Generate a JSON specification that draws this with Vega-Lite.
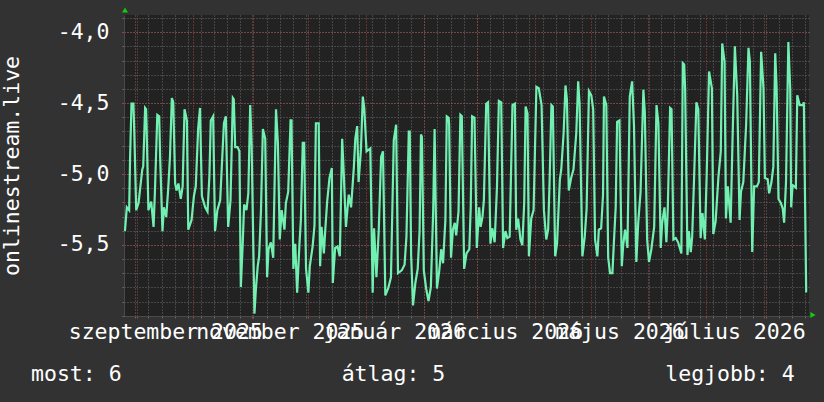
{
  "$schema": "https://vega.github.io/schema/vega-lite/v6.json",
  "width": 685,
  "height": 301,
  "autosize": "none",
  "padding": {"left": 124, "top": 15, "right": 15, "bottom": 86},
  "background": "#323232",
  "config": {
    "view": {"fill": "#222222", "stroke": null},
    "axis": {"labelFont": "DejaVu Sans Mono", "titleFont": "DejaVu Sans Mono", "labelColor": "#ffffff", "titleColor": "#ffffff", "gridOpacity": 1, "tickOpacity": 1}
  },
  "title": {
    "text": "most: 6\u00a0\u00a0\u00a0\u00a0\u00a0\u00a0\u00a0\u00a0\u00a0\u00a0\u00a0\u00a0\u00a0\u00a0\u00a0\u00a0\u00a0átlag: 5\u00a0\u00a0\u00a0\u00a0\u00a0\u00a0\u00a0\u00a0\u00a0\u00a0\u00a0\u00a0\u00a0\u00a0\u00a0\u00a0\u00a0legjobb: 4",
    "orient": "bottom",
    "anchor": "start",
    "frame": "group",
    "font": "DejaVu Sans Mono",
    "fontSize": 21.5,
    "fontWeight": "normal",
    "color": "#ffffff",
    "offset": 21,
    "dx": -93,
    "limit": 900
  },
  "resolve": {"axis": {"x": "independent", "y": "independent"}},
  "layer": [
    {
      "data": {"values": [
        {"t":"2025-08-25T12:00","v":-5.403},{"t":"2025-08-26T12:00","v":-5.235},{"t":"2025-08-27T18:00","v":-5.255},{"t":"2025-08-28T06:00","v":-4.879},{"t":"2025-08-29T00:00","v":-4.504},{"t":"2025-08-30T00:00","v":-4.504},{"t":"2025-08-30T12:00","v":-4.711},{"t":"2025-08-31T12:00","v":-5.255},
        {"t":"2025-09-01T18:00","v":-5.205},{"t":"2025-09-02T12:00","v":-5.116},{"t":"2025-09-03T18:00","v":-4.968},{"t":"2025-09-04T06:00","v":-4.948},{"t":"2025-09-05T06:00","v":-4.534},{"t":"2025-09-05T18:00","v":-4.543},{"t":"2025-09-06T00:00","v":-4.642},{"t":"2025-09-07T00:00","v":-5.255},
        {"t":"2025-09-08T12:00","v":-5.195},{"t":"2025-09-09T18:00","v":-5.373},{"t":"2025-09-10T12:00","v":-5.116},{"t":"2025-09-11T18:00","v":-4.583},{"t":"2025-09-12T18:00","v":-4.593},{"t":"2025-09-13T06:00","v":-4.879},{"t":"2025-09-14T12:00","v":-5.403},{"t":"2025-09-15T06:00","v":-5.235},
        {"t":"2025-09-16T12:00","v":-5.304},{"t":"2025-09-17T12:00","v":-5.116},{"t":"2025-09-18T12:00","v":-4.879},{"t":"2025-09-19T12:00","v":-4.464},{"t":"2025-09-20T06:00","v":-4.494},{"t":"2025-09-21T06:00","v":-5.067},{"t":"2025-09-22T00:00","v":-5.116},{"t":"2025-09-23T00:00","v":-5.067},
        {"t":"2025-09-24T06:00","v":-5.176},{"t":"2025-09-25T06:00","v":-5.087},{"t":"2025-09-26T06:00","v":-4.543},{"t":"2025-09-26T18:00","v":-4.573},{"t":"2025-09-27T12:00","v":-4.622},{"t":"2025-09-28T06:00","v":-5.393},{"t":"2025-09-30T00:00","v":-5.324},{"t":"2025-10-01T06:00","v":-5.156},
        {"t":"2025-10-02T06:00","v":-5.087},{"t":"2025-10-03T12:00","v":-4.682},{"t":"2025-10-04T12:00","v":-4.534},{"t":"2025-10-05T12:00","v":-5.156},{"t":"2025-10-07T06:00","v":-5.235},{"t":"2025-10-08T12:00","v":-5.265},{"t":"2025-10-09T12:00","v":-5.018},{"t":"2025-10-10T06:00","v":-4.622},
        {"t":"2025-10-11T12:00","v":-4.593},{"t":"2025-10-12T12:00","v":-5.403},{"t":"2025-10-13T18:00","v":-5.255},{"t":"2025-10-15T06:00","v":-5.186},{"t":"2025-10-17T06:00","v":-4.642},{"t":"2025-10-18T06:00","v":-4.593},{"t":"2025-10-19T12:00","v":-5.373},{"t":"2025-10-20T18:00","v":-5.186},
        {"t":"2025-10-22T00:00","v":-4.464},{"t":"2025-10-22T12:00","v":-4.474},{"t":"2025-10-23T06:00","v":-4.810},{"t":"2025-10-24T12:00","v":-4.810},{"t":"2025-10-25T12:00","v":-4.840},{"t":"2025-10-26T06:00","v":-5.798},{"t":"2025-10-27T06:00","v":-5.492},{"t":"2025-10-28T00:00","v":-5.215},
        {"t":"2025-10-29T06:00","v":-5.255},{"t":"2025-10-30T06:00","v":-5.136},{"t":"2025-10-31T06:00","v":-4.514},{"t":"2025-11-01T00:00","v":-4.790},{"t":"2025-11-02T12:00","v":-5.985},{"t":"2025-11-03T06:00","v":-5.818},{"t":"2025-11-04T06:00","v":-5.650},{"t":"2025-11-05T00:00","v":-5.581},
        {"t":"2025-11-06T00:00","v":-5.255},{"t":"2025-11-07T00:00","v":-4.682},{"t":"2025-11-08T06:00","v":-4.751},{"t":"2025-11-09T06:00","v":-5.729},{"t":"2025-11-10T00:00","v":-5.531},{"t":"2025-11-11T06:00","v":-5.482},{"t":"2025-11-12T12:00","v":-5.591},{"t":"2025-11-14T00:00","v":-4.543},
        {"t":"2025-11-15T00:00","v":-4.781},{"t":"2025-11-16T00:00","v":-5.462},{"t":"2025-11-17T00:00","v":-5.255},{"t":"2025-11-18T12:00","v":-5.393},{"t":"2025-11-19T06:00","v":-5.205},{"t":"2025-11-20T12:00","v":-5.126},{"t":"2025-11-21T18:00","v":-4.622},{"t":"2025-11-22T06:00","v":-4.622},
        {"t":"2025-11-23T06:00","v":-5.670},{"t":"2025-11-24T06:00","v":-5.492},{"t":"2025-11-25T06:00","v":-5.838},{"t":"2025-11-26T12:00","v":-5.492},{"t":"2025-11-27T06:00","v":-5.324},{"t":"2025-11-28T06:00","v":-4.781},{"t":"2025-11-29T00:00","v":-4.781},{"t":"2025-11-30T00:00","v":-5.670},
        {"t":"2025-12-01T06:00","v":-5.838},{"t":"2025-12-02T00:00","v":-5.650},{"t":"2025-12-03T12:00","v":-5.512},{"t":"2025-12-04T12:00","v":-5.363},{"t":"2025-12-05T06:00","v":-4.642},{"t":"2025-12-06T18:00","v":-4.642},{"t":"2025-12-07T12:00","v":-5.650},{"t":"2025-12-08T06:00","v":-5.373},
        {"t":"2025-12-09T12:00","v":-5.561},{"t":"2025-12-10T06:00","v":-5.393},{"t":"2025-12-11T06:00","v":-5.195},{"t":"2025-12-12T12:00","v":-5.028},{"t":"2025-12-13T18:00","v":-4.958},{"t":"2025-12-14T06:00","v":-5.769},{"t":"2025-12-15T12:00","v":-5.522},{"t":"2025-12-16T18:00","v":-5.512},
        {"t":"2025-12-18T00:00","v":-5.581},{"t":"2025-12-19T06:00","v":-4.751},{"t":"2025-12-20T00:00","v":-4.968},{"t":"2025-12-21T06:00","v":-5.373},{"t":"2025-12-22T18:00","v":-5.146},{"t":"2025-12-24T00:00","v":-5.235},{"t":"2025-12-25T12:00","v":-4.948},{"t":"2025-12-26T06:00","v":-4.751},
        {"t":"2025-12-27T06:00","v":-4.662},{"t":"2025-12-28T00:00","v":-5.057},{"t":"2025-12-29T06:00","v":-4.830},{"t":"2025-12-30T06:00","v":-4.454},{"t":"2025-12-31T00:00","v":-4.534},{"t":"2026-01-01T06:00","v":-4.840},{"t":"2026-01-03T06:00","v":-4.820},{"t":"2026-01-04T12:00","v":-5.838},
        {"t":"2026-01-05T06:00","v":-5.383},{"t":"2026-01-06T12:00","v":-5.729},{"t":"2026-01-07T18:00","v":-5.393},{"t":"2026-01-09T00:00","v":-4.879},{"t":"2026-01-10T00:00","v":-4.840},{"t":"2026-01-11T06:00","v":-5.857},{"t":"2026-01-12T18:00","v":-5.808},{"t":"2026-01-14T06:00","v":-5.729},
        {"t":"2026-01-15T18:00","v":-4.761},{"t":"2026-01-17T00:00","v":-4.652},{"t":"2026-01-18T00:00","v":-5.699},{"t":"2026-01-20T00:00","v":-5.680},{"t":"2026-01-21T12:00","v":-5.640},{"t":"2026-01-22T12:00","v":-5.442},{"t":"2026-01-23T18:00","v":-4.701},{"t":"2026-01-24T06:00","v":-4.701},
        {"t":"2026-01-25T00:00","v":-5.571},{"t":"2026-01-26T00:00","v":-5.927},{"t":"2026-01-27T06:00","v":-5.769},{"t":"2026-01-28T12:00","v":-5.670},{"t":"2026-01-29T12:00","v":-5.403},{"t":"2026-01-30T06:00","v":-4.721},{"t":"2026-01-30T18:00","v":-4.741},{"t":"2026-01-31T18:00","v":-5.680},
        {"t":"2026-02-02T00:00","v":-5.808},{"t":"2026-02-03T06:00","v":-5.897},{"t":"2026-02-04T12:00","v":-5.798},{"t":"2026-02-05T18:00","v":-5.265},{"t":"2026-02-06T12:00","v":-4.682},{"t":"2026-02-07T18:00","v":-5.808},{"t":"2026-02-09T00:00","v":-5.680},{"t":"2026-02-10T00:00","v":-5.531},
        {"t":"2026-02-11T00:00","v":-5.630},{"t":"2026-02-12T06:00","v":-5.324},{"t":"2026-02-13T00:00","v":-4.593},{"t":"2026-02-14T00:00","v":-4.603},{"t":"2026-02-14T06:00","v":-4.652},{"t":"2026-02-15T06:00","v":-5.591},{"t":"2026-02-16T06:00","v":-5.393},{"t":"2026-02-17T06:00","v":-5.344},
        {"t":"2026-02-18T00:00","v":-5.433},{"t":"2026-02-19T06:00","v":-5.265},{"t":"2026-02-20T06:00","v":-4.583},{"t":"2026-02-21T00:00","v":-4.593},{"t":"2026-02-22T06:00","v":-5.670},{"t":"2026-02-23T12:00","v":-5.561},{"t":"2026-02-25T00:00","v":-5.531},{"t":"2026-02-25T18:00","v":-5.235},
        {"t":"2026-02-26T12:00","v":-4.593},{"t":"2026-02-27T18:00","v":-4.603},{"t":"2026-03-01T00:00","v":-5.522},{"t":"2026-03-02T06:00","v":-5.235},{"t":"2026-03-03T00:00","v":-5.373},{"t":"2026-03-04T00:00","v":-5.304},{"t":"2026-03-04T18:00","v":-5.186},{"t":"2026-03-06T00:00","v":-4.504},
        {"t":"2026-03-07T00:00","v":-4.494},{"t":"2026-03-08T06:00","v":-5.492},{"t":"2026-03-09T06:00","v":-5.383},{"t":"2026-03-10T12:00","v":-5.482},{"t":"2026-03-11T18:00","v":-5.087},{"t":"2026-03-12T18:00","v":-4.484},{"t":"2026-03-14T00:00","v":-4.494},{"t":"2026-03-15T00:00","v":-5.522},
        {"t":"2026-03-16T06:00","v":-5.403},{"t":"2026-03-17T06:00","v":-5.452},{"t":"2026-03-18T12:00","v":-5.442},{"t":"2026-03-20T00:00","v":-4.514},{"t":"2026-03-21T06:00","v":-4.504},{"t":"2026-03-22T00:00","v":-5.393},{"t":"2026-03-23T00:00","v":-5.314},{"t":"2026-03-24T06:00","v":-5.462},
        {"t":"2026-03-25T06:00","v":-5.502},{"t":"2026-03-26T06:00","v":-5.205},{"t":"2026-03-27T00:00","v":-4.524},{"t":"2026-03-28T00:00","v":-4.573},{"t":"2026-03-28T18:00","v":-5.581},{"t":"2026-03-30T00:00","v":-5.314},{"t":"2026-03-31T06:00","v":-5.255},{"t":"2026-04-01T18:00","v":-4.385},
        {"t":"2026-04-03T00:00","v":-4.395},{"t":"2026-04-04T12:00","v":-4.514},{"t":"2026-04-05T18:00","v":-5.255},{"t":"2026-04-07T00:00","v":-5.462},{"t":"2026-04-08T00:00","v":-5.393},{"t":"2026-04-08T18:00","v":-5.067},{"t":"2026-04-09T18:00","v":-4.514},{"t":"2026-04-10T12:00","v":-4.524},
        {"t":"2026-04-11T18:00","v":-5.581},{"t":"2026-04-12T18:00","v":-5.492},{"t":"2026-04-14T06:00","v":-5.037},{"t":"2026-04-15T00:00","v":-4.968},{"t":"2026-04-16T06:00","v":-4.711},{"t":"2026-04-17T06:00","v":-4.375},{"t":"2026-04-18T00:00","v":-4.474},{"t":"2026-04-19T00:00","v":-5.116},
        {"t":"2026-04-20T06:00","v":-5.028},{"t":"2026-04-21T12:00","v":-4.968},{"t":"2026-04-23T00:00","v":-4.711},{"t":"2026-04-24T00:00","v":-4.346},{"t":"2026-04-24T18:00","v":-4.504},{"t":"2026-04-26T06:00","v":-5.581},{"t":"2026-04-27T12:00","v":-5.442},{"t":"2026-04-28T12:00","v":-5.245},
        {"t":"2026-04-29T18:00","v":-4.415},{"t":"2026-05-01T00:00","v":-4.445},{"t":"2026-05-02T00:00","v":-4.543},{"t":"2026-05-03T00:00","v":-5.462},{"t":"2026-05-04T06:00","v":-5.581},{"t":"2026-05-05T00:00","v":-5.393},{"t":"2026-05-06T06:00","v":-5.383},{"t":"2026-05-07T06:00","v":-5.146},
        {"t":"2026-05-07T18:00","v":-4.454},{"t":"2026-05-09T00:00","v":-4.514},{"t":"2026-05-10T00:00","v":-5.591},{"t":"2026-05-11T00:00","v":-5.699},{"t":"2026-05-12T06:00","v":-5.699},{"t":"2026-05-13T00:00","v":-5.492},{"t":"2026-05-14T00:00","v":-5.235},{"t":"2026-05-14T18:00","v":-4.632},
        {"t":"2026-05-16T00:00","v":-4.622},{"t":"2026-05-17T06:00","v":-5.650},{"t":"2026-05-18T00:00","v":-5.502},{"t":"2026-05-19T00:00","v":-5.393},{"t":"2026-05-20T06:00","v":-5.522},{"t":"2026-05-21T12:00","v":-4.454},{"t":"2026-05-22T18:00","v":-4.346},{"t":"2026-05-23T18:00","v":-4.662},
        {"t":"2026-05-25T00:00","v":-5.620},{"t":"2026-05-26T00:00","v":-5.344},{"t":"2026-05-27T06:00","v":-5.126},{"t":"2026-05-28T18:00","v":-4.405},{"t":"2026-05-29T12:00","v":-4.563},{"t":"2026-05-30T18:00","v":-5.462},{"t":"2026-05-31T18:00","v":-5.620},{"t":"2026-06-02T00:00","v":-5.531},
        {"t":"2026-06-03T12:00","v":-5.373},{"t":"2026-06-04T18:00","v":-4.514},{"t":"2026-06-05T18:00","v":-4.642},{"t":"2026-06-07T00:00","v":-5.522},{"t":"2026-06-07T18:00","v":-5.344},{"t":"2026-06-09T00:00","v":-5.235},{"t":"2026-06-10T00:00","v":-5.482},{"t":"2026-06-10T18:00","v":-5.245},
        {"t":"2026-06-12T00:00","v":-4.534},{"t":"2026-06-12T18:00","v":-4.543},{"t":"2026-06-13T18:00","v":-5.462},{"t":"2026-06-15T00:00","v":-5.452},{"t":"2026-06-16T06:00","v":-5.482},{"t":"2026-06-18T00:00","v":-5.561},{"t":"2026-06-18T18:00","v":-4.217},{"t":"2026-06-19T12:00","v":-4.227},
        {"t":"2026-06-20T00:00","v":-4.405},{"t":"2026-06-21T06:00","v":-5.571},{"t":"2026-06-22T00:00","v":-5.403},{"t":"2026-06-23T00:00","v":-5.551},{"t":"2026-06-23T18:00","v":-5.442},{"t":"2026-06-24T18:00","v":-5.037},{"t":"2026-06-26T00:00","v":-4.494},{"t":"2026-06-27T00:00","v":-4.543},
        {"t":"2026-06-28T06:00","v":-5.452},{"t":"2026-06-29T06:00","v":-5.275},{"t":"2026-06-30T12:00","v":-5.462},{"t":"2026-07-01T12:00","v":-4.998},{"t":"2026-07-02T18:00","v":-4.277},{"t":"2026-07-04T06:00","v":-4.395},{"t":"2026-07-05T00:00","v":-5.423},{"t":"2026-07-06T06:00","v":-5.334},
        {"t":"2026-07-07T18:00","v":-5.018},{"t":"2026-07-09T00:00","v":-4.840},{"t":"2026-07-09T18:00","v":-4.079},{"t":"2026-07-11T00:00","v":-4.207},{"t":"2026-07-11T18:00","v":-5.314},{"t":"2026-07-12T18:00","v":-5.087},{"t":"2026-07-14T06:00","v":-5.344},{"t":"2026-07-15T06:00","v":-4.761},
        {"t":"2026-07-16T12:00","v":-4.099},{"t":"2026-07-17T18:00","v":-4.445},{"t":"2026-07-19T00:00","v":-5.324},{"t":"2026-07-19T18:00","v":-5.126},{"t":"2026-07-21T00:00","v":-5.057},{"t":"2026-07-22T12:00","v":-4.652},{"t":"2026-07-23T18:00","v":-4.109},{"t":"2026-07-24T12:00","v":-4.207},
        {"t":"2026-07-25T18:00","v":-5.551},{"t":"2026-07-26T18:00","v":-5.087},{"t":"2026-07-28T06:00","v":-5.087},{"t":"2026-07-29T06:00","v":-5.057},{"t":"2026-07-30T12:00","v":-4.138},{"t":"2026-07-31T18:00","v":-4.395},{"t":"2026-08-01T12:00","v":-5.028},{"t":"2026-08-03T00:00","v":-5.037},
        {"t":"2026-08-03T18:00","v":-5.136},{"t":"2026-08-05T00:00","v":-5.057},{"t":"2026-08-06T00:00","v":-4.948},{"t":"2026-08-07T00:00","v":-4.148},{"t":"2026-08-07T18:00","v":-4.395},{"t":"2026-08-08T18:00","v":-5.176},{"t":"2026-08-10T00:00","v":-5.205},{"t":"2026-08-11T00:00","v":-5.245},
        {"t":"2026-08-11T18:00","v":-5.344},{"t":"2026-08-12T18:00","v":-5.057},{"t":"2026-08-14T00:00","v":-4.069},{"t":"2026-08-15T00:00","v":-4.405},{"t":"2026-08-15T12:00","v":-5.235},{"t":"2026-08-16T06:00","v":-5.077},{"t":"2026-08-18T00:00","v":-5.097},{"t":"2026-08-18T18:00","v":-4.445},
        {"t":"2026-08-20T00:00","v":-4.514},{"t":"2026-08-21T18:00","v":-4.514},{"t":"2026-08-22T06:00","v":-4.494},{"t":"2026-08-23T12:00","v":-5.828},{"t":"2026-08-24T00:00","v":-5.828}
      ]},
      "mark": {"type": "line", "color": "#72f0b2", "strokeWidth": 2.2, "clip": true},
      "encoding": {
        "x": {
          "field": "t", "type": "temporal",
          "scale": {"domain": [{"year": 2025, "month": 8, "date": 25}, {"year": 2026, "month": 8, "date": 25}]},
          "axis": {"orient": "bottom", "tickCount": {"interval": "week", "step": 1}, "grid": true, "gridColor": "#6a6a6a", "gridDash": [1, 2], "gridWidth": 1, "labels": false, "ticks": true, "tickColor": "#6a6a6a", "tickSize": 2, "domain": false, "title": null}
        },
        "y": {
          "field": "v", "type": "quantitative",
          "scale": {"domain": [-6.002, -3.878], "nice": false, "zero": false},
          "axis": {"orient": "left", "values": [-6.0, -5.9, -5.8, -5.7, -5.6, -5.5, -5.4, -5.3, -5.2, -5.1, -5.0, -4.9, -4.8, -4.7, -4.6, -4.5, -4.4, -4.3, -4.2, -4.1, -4.0, -3.9], "grid": true, "gridColor": "#6a6a6a", "gridDash": [1, 2], "gridWidth": 1, "labels": false, "ticks": true, "tickColor": "#6a6a6a", "tickSize": 2, "domain": false, "title": null}
        }
      }
    },
    {
      "data": {"values": [{}]},
      "mark": {"type": "point", "shape": "triangle-up", "filled": true, "color": "#11cc11", "opacity": 1, "size": 36, "yOffset": -5, "xOffset": 1},
      "encoding": {
        "x": {
          "datum": {"year": 2025, "month": 8, "date": 25}, "type": "temporal",
          "scale": {"domain": [{"year": 2025, "month": 8, "date": 25}, {"year": 2026, "month": 8, "date": 25}]},
          "axis": {"orient": "bottom", "tickCount": {"interval": "month", "step": 1}, "grid": true, "gridColor": "#a54646", "gridDash": [1, 2], "gridWidth": 1, "labels": false, "ticks": true, "tickColor": "#a54646", "tickSize": 2, "domain": true, "domainColor": "#4a4a4a", "title": null}
        },
        "y": {
          "datum": -3.878, "type": "quantitative",
          "scale": {"domain": [-6.002, -3.878], "nice": false, "zero": false},
          "axis": {"orient": "left", "values": [-5.5, -5.0, -4.5, -4.0], "grid": true, "gridColor": "#a54646", "gridDash": [1, 2], "gridWidth": 1, "ticks": true, "tickColor": "#a54646", "tickSize": 2, "domain": true, "domainColor": "#4a4a4a",
            "labelExpr": "'-' + replace(format(abs(datum.value), '.1f'), '.', ',')",
            "labelFontSize": 21.5, "labelPadding": 13, "labelColor": "#ffffff",
            "title": "onlinestream.live", "titleFontSize": 21.5, "titleFontWeight": "normal", "titleColor": "#ffffff", "titlePadding": 34}
        }
      }
    },
    {
      "data": {"values": [{}]},
      "mark": {"type": "point", "shape": "triangle-right", "filled": true, "color": "#11cc11", "opacity": 1, "size": 36, "xOffset": 4, "yOffset": -1},
      "encoding": {
        "x": {
          "datum": {"year": 2026, "month": 8, "date": 25}, "type": "temporal",
          "scale": {"domain": [{"year": 2025, "month": 8, "date": 25}, {"year": 2026, "month": 8, "date": 25}]},
          "axis": {"orient": "bottom",
            "values": [{"year": 2025, "month": 9, "date": 16}, {"year": 2025, "month": 11, "date": 16}, {"year": 2026, "month": 1, "date": 16}, {"year": 2026, "month": 3, "date": 16}, {"year": 2026, "month": 5, "date": 16}, {"year": 2026, "month": 7, "date": 16}],
            "labelExpr": "['január','február','március','április','május','június','július','augusztus','szeptember','október','november','december'][month(datum.value)] + ' ' + year(datum.value)",
            "grid": false, "ticks": false, "tickSize": 0, "domain": false, "labelFontSize": 21.5, "labelColor": "#ffffff", "labelPadding": 5, "labelOverlap": false, "labelFlush": false, "labelBound": false, "labelAlign": "center", "labelLimit": 0, "title": null}
        },
        "y": {
          "datum": -6.002, "type": "quantitative",
          "scale": {"domain": [-6.002, -3.878], "nice": false, "zero": false},
          "axis": null
        }
      }
    }
  ]
}
